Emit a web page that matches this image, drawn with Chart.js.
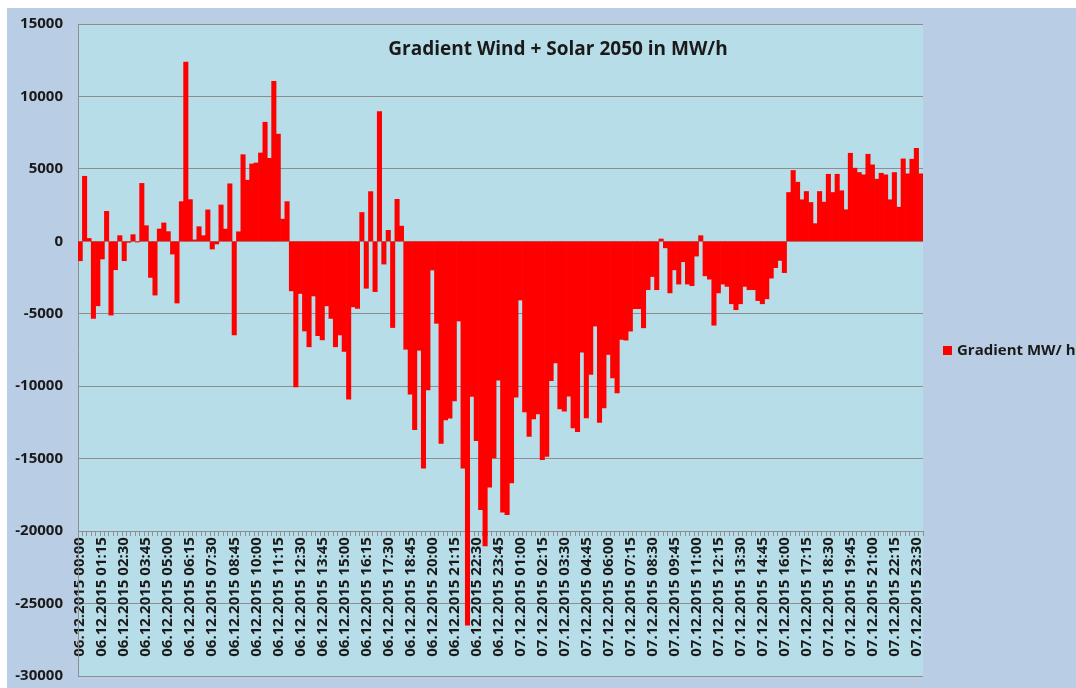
<!DOCTYPE html>
<html>
<head>
<meta charset="utf-8">
<title>Gradient Wind + Solar 2050</title>
<script src="https://cdn.jsdelivr.net/npm/chart.js@4.4.1/dist/chart.umd.min.js"></script>
<style>
    body { margin: 0; background: #ffffff; }
    #frame { position: absolute; left: 7px; top: 8px; width: 1069px; height: 680px; background: #b9cde5; }
</style>
</head>
<body>
<div id="frame"><canvas id="gradientChart" width="1069" height="680"></canvas></div>
<script>
// Chart values (15 minute steps)
const chartTitle = 'Gradient Wind + Solar 2050 in MW/h';
const seriesLabel = 'Gradient MW/ h';
const days = ['06.12.2015', '07.12.2015'];
const yTicks = [15000, 10000, 5000, 0, -5000, -10000, -15000, -20000, -25000, -30000];

const gradientDay1 = [
    -1340, 4490, 200, -5320, -4450, -1220, 2070, -5090, -1960, 390,
    -1340, -70, 460, -50, 4000, 1080, -2490, -3710, 850, 1270,
    670, -880, -4260, 2740, 12370, 2880, 100, 1010, 390, 2170,
    -530, -180, 2510, 845, 3970, -6460, 660, 5980, 4220, 5340,
    5410, 6100, 8220, 5730, 11050, 7400, 1530, 2740, -3420, -10040,
    -3600, -6190, -7280, -3770, -6510, -6800, -4450, -5320, -7280, -6460,
    -7600, -10900, -4520, -4630, 1990, -3240, 3430, -3470, 8950, -1570,
    760, -5950, 2900, 1050, -7450, -10540, -13000, -7520, -15660, -10260,
    -1980, -5660, -13950, -12330, -12210, -11020, -5500, -15660, -26490, -10710,
    -13760, -18520, -21020, -16970, -14950, -9590
];
const gradientDay2 = [
    -18700, -18870, -16680, -10760, -4050, -11770, -13460, -12260, -11910, -15070,
    -14840, -9610, -8390, -11570, -11730, -10690, -12880, -13130, -7650, -12190,
    -9190, -5850, -12490, -11500, -7810, -9420, -10460, -6770, -6820, -6200,
    -4650, -4650, -5970, -3340, -2430, -3340, 160, -450, -3560, -1970,
    -2950, -1410, -2950, -3060, -1020, 390, -2380, -2610, -5790, -3560,
    -2950, -3110, -4310, -4720, -4310, -3110, -3340, -3340, -4090, -4310,
    -3970, -2540, -1820, -1320, -2160, 3370, 4890, 4080, 2870, 3440,
    2680, 1220, 3440, 2710, 4630, 3370, 4630, 3490, 2180, 6080,
    5050, 4750, 4590, 6010, 5280, 4290, 4700, 4590, 2870, 4750,
    2360, 5690, 4660, 5670, 6420, 4660
];
const gradientValues = gradientDay1.concat(gradientDay2);

// Category labels: every quarter hour of both days
const categories = [];
days.forEach(day => {
    for (let q = 0; q < 96; q++) {
        const hh = String(Math.floor(q / 4)).padStart(2, '0');
        const mm = String((q % 4) * 15).padStart(2, '0');
        categories.push(`${day} ${hh}:${mm}`);
    }
});

const FONT = '"Open Sans", "DejaVu Sans", sans-serif';
const GRID = '#8e8e8e';

// Light blue plot background
const plotBackground = {
    id: 'plotBackground',
    beforeDraw(chart) {
        const { ctx, chartArea } = chart;
        ctx.save();
        ctx.fillStyle = '#b7dde8';
        ctx.fillRect(chartArea.left, chartArea.top, chartArea.right - chartArea.left, chartArea.bottom - chartArea.top);
        ctx.restore();
    }
};

// Title inside the plot and legend on the right, as in the Excel chart
const titleAndLegend = {
    id: 'titleAndLegend',
    afterDraw(chart) {
        const { ctx } = chart;
        ctx.save();
        ctx.fillStyle = '#1a1a1a';
        ctx.font = `bold 19px ${FONT}`;
        ctx.textAlign = 'center';
        ctx.textBaseline = 'middle';
        ctx.fillText(chartTitle, 551, 42);

        ctx.fillStyle = '#ff0000';
        ctx.fillRect(936, 338, 9, 9);
        ctx.fillStyle = '#1a1a1a';
        ctx.font = `bold 15px ${FONT}`;
        ctx.textAlign = 'left';
        ctx.fillText(seriesLabel, 950, 343);
        ctx.restore();
    }
};

const ctx = document.getElementById('gradientChart').getContext('2d');
const gradientChart = new Chart(ctx, {
    type: 'bar',
    data: {
        labels: categories,
        datasets: [{
            label: seriesLabel,
            data: gradientValues,
            backgroundColor: '#ff0000',
            borderWidth: 0,
            barPercentage: 1.0,
            categoryPercentage: 1.0,
        }],
    },
    options: {
        responsive: false,
        animation: false,
        layout: { padding: { top: 16, right: 153, bottom: 11, left: 0 } },
        plugins: {
            legend: { display: false },
            title: { display: false },
            tooltip: { enabled: false },
        },
        scales: {
            x: {
                position: { y: -20000 },
                offset: true,
                grid: { drawOnChartArea: false, drawTicks: true, tickLength: 4, color: GRID },
                border: { display: true, color: GRID },
                ticks: {
                    autoSkip: false,
                    maxRotation: 90,
                    minRotation: 90,
                    padding: 2,
                    color: '#1a1a1a',
                    font: { family: FONT, size: 15, weight: 'bold' },
                    callback: (value, index) => index % 5 === 0 ? categories[index] : '',
                },
            },
            y: {
                min: -30000,
                max: 15000,
                afterFit: scale => { scale.width = 71; },
                afterBuildTicks: scale => { scale.ticks = yTicks.map(v => ({ value: v })); },
                // invisible tick marks keep the gap between labels and axis
                grid: { color: GRID, drawTicks: true, tickLength: 12, tickColor: 'rgba(0,0,0,0)' },
                border: { display: true, color: GRID },
                ticks: {
                    padding: 3,
                    color: '#1a1a1a',
                    font: { family: FONT, size: 15, weight: 'bold' },
                    callback: value => String(value),
                },
            },
        },
    },
    plugins: [plotBackground, titleAndLegend],
});
</script>
</body>
</html>
